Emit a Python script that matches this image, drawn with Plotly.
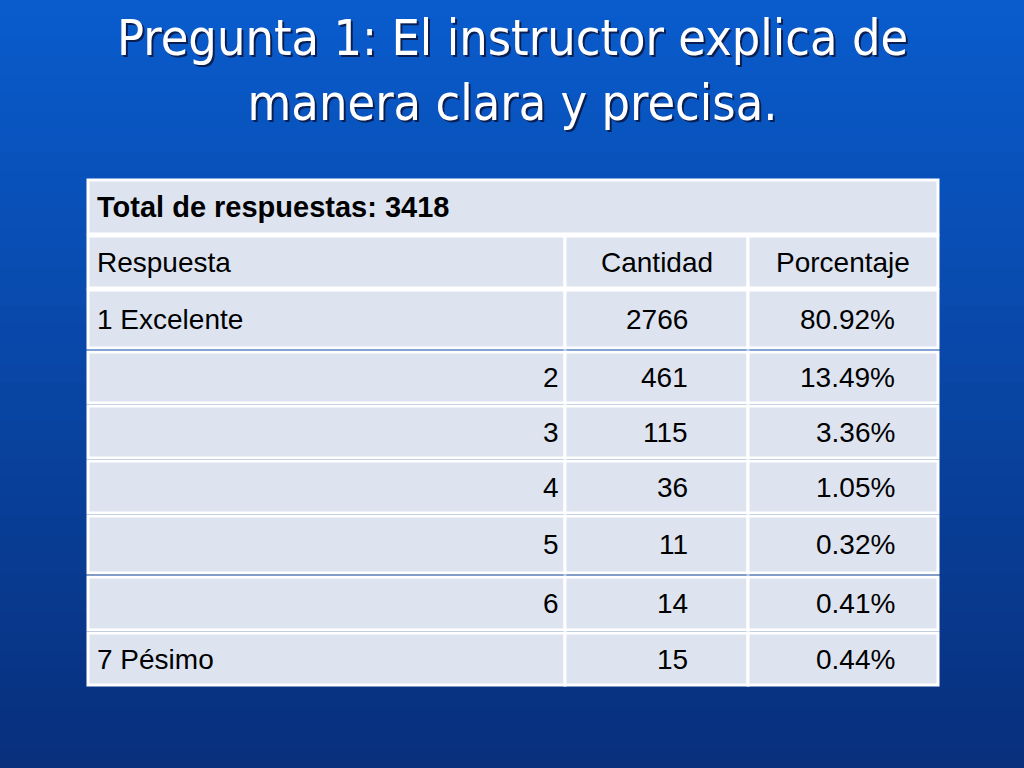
import plotly.graph_objects as go

# table contents
titulo = "Pregunta 1: El instructor explica de<br>manera clara y precisa."
total_label = "Total de respuestas: 3418"
encabezados = ["Respuesta", "Cantidad", "Porcentaje"]
respuestas = ["1 Excelente", "2", "3", "4", "5", "6", "7 Pésimo"]
cantidades = [2766, 461, 115, 36, 11, 14, 15]
porcentajes = ["80.92%", "13.49%", "3.36%", "1.05%", "0.32%", "0.41%", "0.44%"]

# layout geometry (pixels)
col_edges = [88, 565, 748, 938]
row_edges = [(180, 234), (236, 288), (290, 348), (352, 403), (406, 458),
             (461, 513), (516, 573), (577, 630), (633, 685)]

fig = go.Figure()
shapes = []
annotations = []

# background gradient
n = 40
for i in range(n):
    t = i / (n - 1)
    r = int(10 + (8 - 10) * t)
    g = int(92 + (48 - 92) * t)
    b = int(205 + (125 - 205) * t)
    shapes.append(dict(type="rect", xref="paper", yref="paper", x0=0, x1=1,
                       y0=1 - (i + 1) / n, y1=1 - i / n + 0.002, line_width=0,
                       fillcolor=f"rgb({r},{g},{b})", layer="below"))

cell_fill = "#dde4f0"
font = dict(family="Liberation Sans, Arial", size=28, color="black")

def cell(x0, x1, y0, y1):
    shapes.append(dict(type="rect", x0=x0, x1=x1, y0=y0, y1=y1,
                       fillcolor=cell_fill, line=dict(color="white", width=3)))

# header row spanning all columns
y0, y1 = row_edges[0]
cell(col_edges[0], col_edges[3], y0, y1)
annotations.append(dict(x=col_edges[0] + 7, y=(y0 + y1) / 2, text="<b>" + total_label + "</b>",
                        showarrow=False, xanchor="left",
                        font=dict(family="Liberation Sans, Arial", size=29, color="black")))

# column headers
y0, y1 = row_edges[1]
for j, h in enumerate(encabezados):
    cell(col_edges[j], col_edges[j + 1], y0, y1)
cx = [col_edges[0] + 7, 657, 843]
annotations.append(dict(x=cx[0], y=(y0 + y1) / 2, text=encabezados[0], showarrow=False,
                        xanchor="left", font=font))
for j in (1, 2):
    annotations.append(dict(x=cx[j], y=(y0 + y1) / 2, text=encabezados[j], showarrow=False,
                            xanchor="center", font=font))

# data rows
for i, (resp, cant, pct) in enumerate(zip(respuestas, cantidades, porcentajes)):
    y0, y1 = row_edges[i + 2]
    ym = (y0 + y1) / 2
    for j in range(3):
        cell(col_edges[j], col_edges[j + 1], y0, y1)
    if " " in resp:
        annotations.append(dict(x=col_edges[0] + 7, y=ym, text=resp, showarrow=False,
                                xanchor="left", font=font))
    else:
        annotations.append(dict(x=col_edges[1] - 4, y=ym, text=resp, showarrow=False,
                                xanchor="right", font=font))
    annotations.append(dict(x=690, y=ym, text=str(cant), showarrow=False,
                            xanchor="right", font=font))
    annotations.append(dict(x=897, y=ym, text=pct, showarrow=False,
                            xanchor="right", font=font))

# title with shadow
for dx, col in ((2, "#0a1e50"), (0, "white")):
    annotations.append(dict(x=512 + dx, y=70 + dx, text=titulo, showarrow=False,
                            xanchor="center", yanchor="middle",
                            font=dict(family="DejaVu Sans Condensed, DejaVu Sans", size=50, color=col)))

fig.update_layout(
    width=1024, height=768, margin=dict(l=0, r=0, t=0, b=0),
    paper_bgcolor="#0a4fb0", plot_bgcolor="rgba(0,0,0,0)",
    shapes=shapes, annotations=annotations, showlegend=False,
    xaxis=dict(range=[0, 1024], visible=False, fixedrange=True),
    yaxis=dict(range=[768, 0], visible=False, fixedrange=True),
)
fig.write_html("out.html", config={"displayModeBar": False})

# drop the page margin so the slide fills the window
with open("out.html", encoding="utf-8") as f:
    html = f.read()
html = html.replace("<head>", "<head><style>body{margin:0;overflow:hidden}</style>", 1)
with open("out.html", "w", encoding="utf-8") as f:
    f.write(html)
